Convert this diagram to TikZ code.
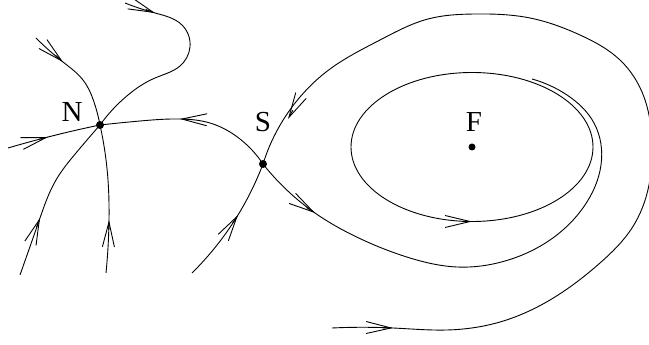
\documentclass[tikz,border=0pt]{standalone}
\usepackage{fontspec}
\setmainfont{Liberation Serif}
\usetikzlibrary{arrows.meta,calc,hobby}

% arrow head on an orbit: #1 point before, #2 tip, #3 point after
\newcommand{\flowmark}[3]{%
  \draw[->] ($(#2)!10pt!($(#2)+(#1)-(#3)$)$) -- (#2);}

\begin{document}
\begin{tikzpicture}[
  x=1pt, y=1pt, line width=0.9pt,
  >={Straight Barb[length=25pt,width=12pt]},
  use Hobby shortcut,
  pt/.style={circle, fill, inner sep=0pt, minimum size=8pt},
  lab/.style={font=\fontsize{29}{32}\selectfont, inner sep=0pt}
]
\useasboundingbox (0,0) rectangle (649,345);

% equilibria
\node[pt] (N) at (100,220) {};
\node[pt] (S) at (263,181) {};
\node[pt, minimum size=7pt] (F) at (472,198) {};
\node[lab] (labN) at (72,233) {N};
\node[lab] (labS) at (263,223) {S};
\node[lab] (labF) at (474,223) {F};

% free ends
\coordinate (a0) at (125,342);
\coordinate (b0) at (36,307);
\coordinate (c0) at (106,72);
\coordinate (d0) at (20,70);
\coordinate (e0) at (8,197);
\coordinate (h1) at (532,266);
\coordinate (k0) at (332,17);
\coordinate (l0) at (192,72);

% orbits into the node
\draw (a0) .. (155,332) .. (182,320) .. (190,298) .. (180,279)
  .. (155,267) .. (128,250) .. (N.center);
\draw (b0) .. (63,283) .. (83,265) .. (94,243) .. (N.center);
\draw (c0) .. (109,125) .. (108,165) .. (N.center);
\draw (d0) .. (40,127) .. (56,165) .. (76,192) .. (N.center);
\draw (e0) .. (48,208) .. (N.center);
\flowmark{a0}{155,332}{182,320}
\flowmark{b0}{63,283}{83,265}
\flowmark{c0}{109,125}{108,165}
\flowmark{d0}{40,127}{56,165}
\flowmark{e0}{48,208}{N.center}

% separatrices of the saddle
\draw (S.center) .. (240,206) .. (210,222) .. (180,226) .. (140,224) .. (N.center);
\draw (S.center) .. (290,152) .. (315,132) .. (363,105) .. (410,87) .. (457,78)
  .. (505,84) .. (550,105) .. (585,140) .. (601,180) .. (594,222) .. (567,250) .. (h1);
\draw (k0) .. (393,17) .. (447,15) .. (500,23) .. (550,45) .. (600,82) .. (632,117)
  .. (649,160) .. (652,200) .. (644,248) .. (620,285) .. (580,310) .. (530,327)
  .. (475,331) .. (428,326) .. (380,305) .. (330,276) .. (300,248) .. (S.center);
\draw (l0) .. (238,130) .. (S.center);
\flowmark{210,222}{180,226}{140,224}
\flowmark{290,152}{315,132}{363,105}
\flowmark{k0}{393,17}{447,15}
\flowmark{300,248}{288,226}{S.center}
\flowmark{l0}{238,130}{S.center}

% limit cycle round the focus
\draw (F.center) ellipse[x radius=121, y radius=74.5];
\flowmark{462,123.5}{472,123.5}{482,123.5}
\end{tikzpicture}
\end{document}
